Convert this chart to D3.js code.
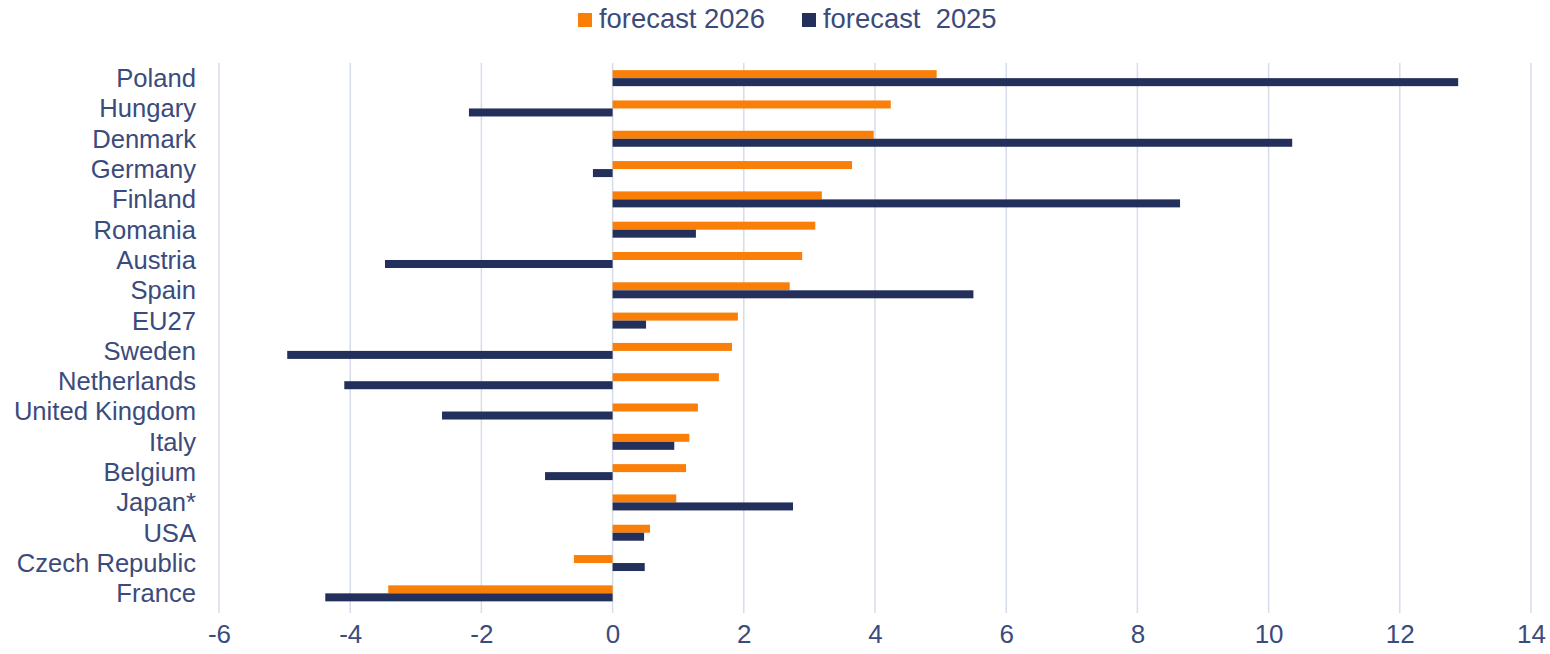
<!DOCTYPE html>
<html>
<head>
<meta charset="utf-8">
<script src="https://cdnjs.cloudflare.com/ajax/libs/d3/7.8.5/d3.min.js"></script>
<style>
  body { margin: 0; background: #ffffff; }
  text { font-family: "Liberation Sans", Arial, sans-serif; fill: #3b4b7c; }
</style>
</head>
<body>
<div id="chart"></div>
<script>
// Chart data
var countries = ["Poland", "Hungary", "Denmark", "Germany", "Finland", "Romania", "Austria",
  "Spain", "EU27", "Sweden", "Netherlands", "United Kingdom", "Italy", "Belgium", "Japan*",
  "USA", "Czech Republic", "France"];
var forecast2026 = [4.94, 4.24, 3.98, 3.65, 3.19, 3.09, 2.89, 2.70, 1.91, 1.82, 1.62, 1.30,
  1.17, 1.12, 0.97, 0.57, -0.59, -3.42];
var forecast2025 = [12.89, -2.19, 10.36, -0.30, 8.65, 1.27, -3.47, 5.50, 0.51, -4.96, -4.09,
  -2.60, 0.94, -1.03, 2.75, 0.48, 0.49, -4.38];
var xTicks = [-6, -4, -2, 0, 2, 4, 6, 8, 10, 12, 14];
var seriesNames = ["forecast 2026", "forecast\u00a0 2025"];

var svgWidth = 1550;
var svgHeight = 654;

var orange = "#fa7f08";
var navy = "#22305b";

var svg = d3.select("#chart")
  .append("svg")
  .attr("width", svgWidth)
  .attr("height", svgHeight);

// Scales
var xScale = d3.scaleLinear()
  .domain([-6, 14])
  .range([219, 1531]);

var yScale = d3.scaleBand()
  .domain(countries)
  .range([63, 608.5]);

var barH = 8;

// Vertical gridlines
svg.append("g")
  .selectAll("line")
  .data(xTicks)
  .enter()
  .append("line")
  .attr("x1", d => xScale(d))
  .attr("x2", d => xScale(d))
  .attr("y1", 63)
  .attr("y2", 613)
  .attr("stroke", "#d6dcec")
  .attr("stroke-width", 1.5);

// Orange bars (2026), upper half of each row
svg.append("g")
  .selectAll("rect")
  .data(forecast2026)
  .enter()
  .append("rect")
  .attr("x", d => xScale(Math.min(0, d)))
  .attr("y", (d, i) => yScale(countries[i]) + yScale.bandwidth() / 2 - barH)
  .attr("width", d => Math.abs(xScale(d) - xScale(0)))
  .attr("height", barH)
  .attr("fill", orange);

// Navy bars (2025), lower half of each row
svg.append("g")
  .selectAll("rect")
  .data(forecast2025)
  .enter()
  .append("rect")
  .attr("x", d => xScale(Math.min(0, d)))
  .attr("y", (d, i) => yScale(countries[i]) + yScale.bandwidth() / 2)
  .attr("width", d => Math.abs(xScale(d) - xScale(0)))
  .attr("height", barH)
  .attr("fill", navy);

// Category labels
svg.append("g")
  .selectAll("text")
  .data(countries)
  .enter()
  .append("text")
  .attr("x", 196)
  .attr("y", d => yScale(d) + yScale.bandwidth() / 2)
  .attr("dy", "0.35em")
  .attr("text-anchor", "end")
  .style("font-size", "25.6px")
  .text(d => d);

// X tick labels, plain hyphen for negatives
var bottomAxis = d3.axisBottom(xScale)
  .tickValues(xTicks)
  .tickFormat(d => String(d))
  .tickSize(0)
  .tickPadding(0);

var axisG = svg.append("g")
  .attr("transform", "translate(0, 625)")
  .call(bottomAxis);
axisG.select(".domain").remove();
axisG.selectAll("text")
  .attr("dy", "0.71em")
  .style("font-size", "26px")
  .style("font-family", "'Liberation Sans', Arial, sans-serif")
  .attr("fill", "#3b4b7c");

// Legend
var legend = svg.append("g");
var legendX = [578, 802];
var legendColors = [orange, navy];
seriesNames.forEach(function(name, i) {
  legend.append("rect")
    .attr("x", legendX[i])
    .attr("y", 13)
    .attr("width", 14)
    .attr("height", 14)
    .attr("fill", legendColors[i]);
  legend.append("text")
    .attr("x", legendX[i] + 21)
    .attr("y", 28)
    .style("font-size", "27.4px")
    .text(name);
});
</script>
</body>
</html>
